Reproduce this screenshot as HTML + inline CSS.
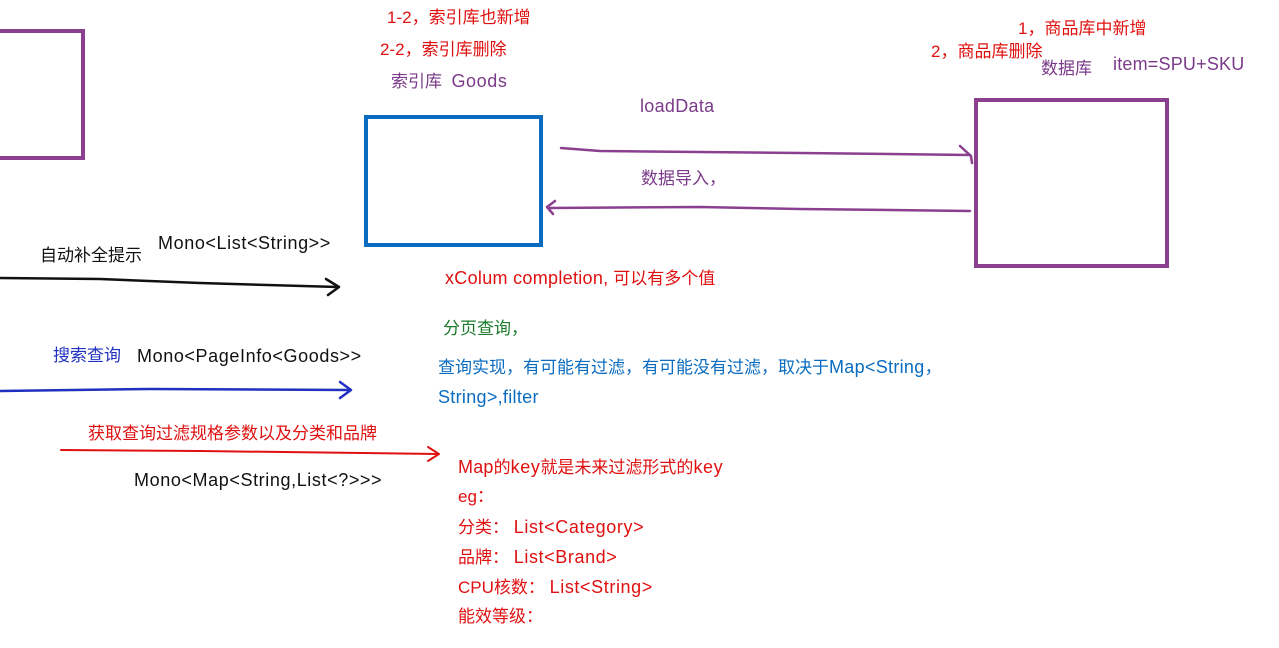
<!DOCTYPE html>
<html><head><meta charset="utf-8"><style>
body{margin:0;width:1279px;height:648px;background:#fff;position:relative;overflow:hidden;font-family:"Liberation Sans","Noto Sans CJK SC",sans-serif;font-size:17px}
.t{position:absolute;white-space:nowrap;line-height:20px}
.l{font-size:18px;letter-spacing:0.6px}
.r{color:#e01010}.p{color:#7b3a8a}.k{color:#111}.b{color:#0a6cc0}.db{color:#2030c0}.g{color:#1a7a2a}
.box{position:absolute;box-sizing:border-box}
</style></head><body>
<div class="box" style="left:-10px;top:29px;width:95px;height:131px;border:4px solid #8a3f8f"></div>
<div class="box" style="left:364px;top:115px;width:179px;height:132px;border:4px solid #0a6cc0"></div>
<div class="box" style="left:974px;top:98px;width:195px;height:170px;border:4px solid #8a3f8f"></div>
<svg width="1279" height="648" style="position:absolute;left:0;top:0" fill="none" stroke-linecap="round" stroke-linejoin="round">
<path d="M0 278 L100 279 L200 283 L338 287" stroke="#111" stroke-width="2.5"/>
<path d="M326 279 L339 287 L328 295" stroke="#111" stroke-width="2.5"/>
<path d="M0 391 L150 389 L350 390" stroke="#2030c0" stroke-width="2.5"/>
<path d="M340 382 L351 390 L340 398" stroke="#2030c0" stroke-width="2.5"/>
<path d="M61 450 L200 451 L438 454" stroke="#e01010" stroke-width="2"/>
<path d="M428 447 L439 454 L428 461" stroke="#e01010" stroke-width="2"/>
<path d="M561 148 L600 151 L800 153 L970 155" stroke="#8a3f8f" stroke-width="2.5"/>
<path d="M960 146 L971 156 L972 163" stroke="#8a3f8f" stroke-width="2.5"/>
<path d="M970 211 L800 209 L700 207 L548 208" stroke="#8a3f8f" stroke-width="2.5"/>
<path d="M555 201 L547 207 L553 214" stroke="#8a3f8f" stroke-width="2.5"/>
</svg>
<div class="t r" style="left:387px;top:8px">1-2，索引库也新增</div>
<div class="t r" style="left:380px;top:40px">2-2，索引库删除</div>
<div class="t p" style="left:391px;top:71px">索引库&nbsp;&nbsp;<span class="l">Goods</span></div>
<div class="t r" style="left:1018px;top:19px">1，商品库中新增</div>
<div class="t r" style="left:931px;top:42px">2，商品库删除</div>
<div class="t p" style="left:1041px;top:59px">数据库</div>
<div class="t p l" style="left:1113px;top:54px;letter-spacing:0.2px">item=SPU+SKU</div>
<div class="t p l" style="left:640px;top:96px;letter-spacing:0.3px">loadData</div>
<div class="t p" style="left:641px;top:169px">数据导入，</div>
<div class="t k l" style="left:158px;top:233px">Mono&lt;List&lt;String&gt;&gt;</div>
<div class="t k" style="left:40px;top:246px">自动补全提示</div>
<div class="t r" style="left:445px;top:268px"><span class="l" style="letter-spacing:0.3px">xColum completion,</span> 可以有多个值</div>
<div class="t g" style="left:443px;top:319px">分页查询，</div>
<div class="t db" style="left:53px;top:346px">搜索查询</div>
<div class="t k l" style="left:137px;top:346px">Mono&lt;PageInfo&lt;Goods&gt;&gt;</div>
<div class="t b" style="left:438px;top:357px">查询实现，有可能有过滤，有可能没有过滤，取决于<span class="l" style="letter-spacing:0.3px">Map&lt;String</span>，</div>
<div class="t b l" style="left:438px;top:387px;letter-spacing:0.3px">String&gt;,filter</div>
<div class="t r" style="left:88px;top:424px">获取查询过滤规格参数以及分类和品牌</div>
<div class="t k l" style="left:134px;top:470px">Mono&lt;Map&lt;String,List&lt;?&gt;&gt;&gt;</div>
<div class="t r" style="left:458px;top:457px"><span class="l" style="letter-spacing:0.2px">Map</span>的<span class="l">key</span>就是未来过滤形式的<span class="l">key</span></div>
<div class="t r" style="left:458px;top:487px">eg：</div>
<div class="t r" style="left:458px;top:517px">分类：&nbsp;<span class="l">List&lt;Category&gt;</span></div>
<div class="t r" style="left:458px;top:547px">品牌：&nbsp;<span class="l">List&lt;Brand&gt;</span></div>
<div class="t r" style="left:458px;top:577px">CPU核数：&nbsp;<span class="l">List&lt;String&gt;</span></div>
<div class="t r" style="left:458px;top:607px">能效等级：</div>
</body></html>
